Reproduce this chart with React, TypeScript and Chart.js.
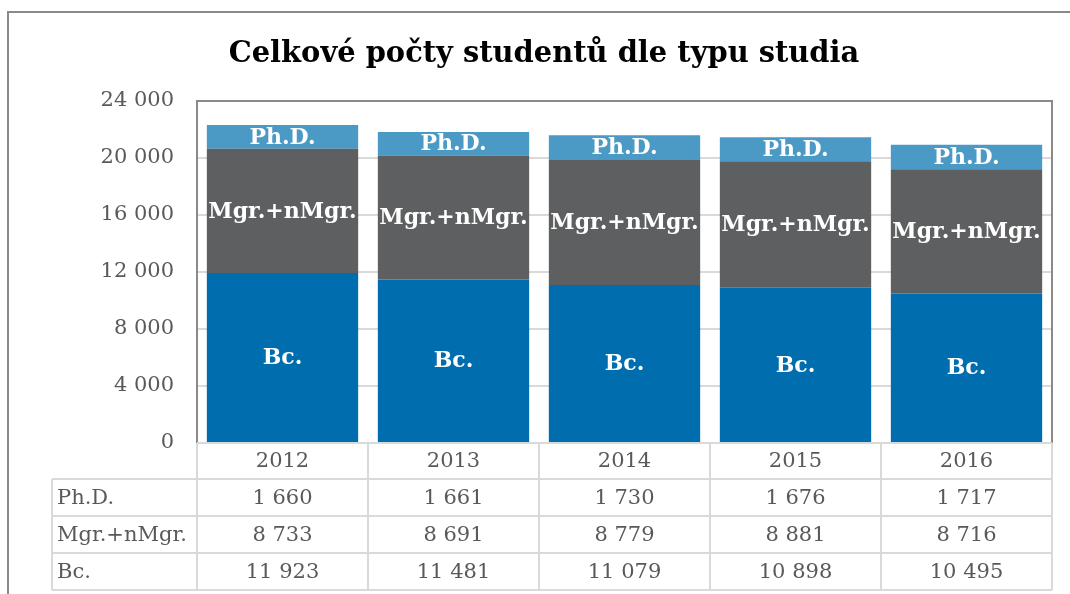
import React, { useEffect, useRef } from "react";
import { Chart, registerables } from "chart.js";

Chart.register(...registerables);

const chartTitle = "Celkové počty studentů dle typu studia";
const years = ["2012", "2013", "2014", "2015", "2016"];
const bcValues = [11923, 11481, 11079, 10898, 10495];
const mgrValues = [8733, 8691, 8779, 8881, 8716];
const phdValues = [1660, 1661, 1730, 1676, 1717];
const seriesNames = ["Bc.", "Mgr.+nMgr.", "Ph.D."];
const yMin = 0;
const yMax = 24000;
const yStep = 4000;

const SERIF = '"DejaVu Serif", "Liberation Serif", serif';
const TEXT_GREY = "#595959";
const LINE_GREY = "#D9D9D9";
const BORDER_GREY = "#8A8A8A";

const fmt = (n: number) => String(n).replace(/\B(?=(\d{3})+(?!\d))/g, "\u00a0");

const decorPlugin = {
  id: "decor",
  afterDatasetsDraw(chart: any) {
    const ctx = chart.ctx;
    // data labels
    ctx.save();
    ctx.fillStyle = "#FFFFFF";
    ctx.font = `bold 22px ${SERIF}`;
    ctx.textAlign = "center";
    ctx.textBaseline = "middle";
    chart.data.datasets.forEach((ds: any, di: number) => {
      const meta = chart.getDatasetMeta(di);
      meta.data.forEach((el: any) => {
        const p = el.getProps(["x", "y", "base"], true);
        ctx.fillText(ds.label, p.x, (p.y + p.base) / 2 + 1);
      });
    });
    ctx.restore();
  },
  afterDraw(chart: any) {
    const ctx = chart.ctx;
    const area = chart.chartArea;
    const xs = chart.scales.x;
    const n = years.length;
    const catW = (area.right - area.left) / n;

    ctx.save();
    // outer chart border
    ctx.strokeStyle = BORDER_GREY;
    ctx.lineWidth = 2;
    ctx.beginPath();
    ctx.moveTo(8, chart.height);
    ctx.lineTo(8, 12);
    ctx.lineTo(chart.width, 12);
    ctx.stroke();

    // title
    ctx.fillStyle = "#000000";
    let size = 30;
    ctx.font = `bold ${size}px ${SERIF}`;
    const w = ctx.measureText(chartTitle).width;
    size = Math.min(34, (size * 631) / w);
    ctx.font = `bold ${size}px ${SERIF}`;
    ctx.textAlign = "center";
    ctx.textBaseline = "alphabetic";
    ctx.fillText(chartTitle, 544, 62);

    // plot area border (top, left, right)
    ctx.strokeStyle = BORDER_GREY;
    ctx.lineWidth = 2;
    ctx.beginPath();
    ctx.moveTo(area.left, area.bottom);
    ctx.lineTo(area.left, area.top);
    ctx.lineTo(area.right, area.top);
    ctx.lineTo(area.right, area.bottom);
    ctx.stroke();

    // data table
    const rowH = [36, 37, 37, 37];
    const rowsTop: number[] = [];
    let yy = area.bottom;
    for (const h of rowH) {
      rowsTop.push(yy);
      yy += h;
    }
    const tableBottom = yy;
    const labelLeft = 52;

    ctx.strokeStyle = LINE_GREY;
    ctx.lineWidth = 2;
    ctx.beginPath();
    // horizontal lines
    ctx.moveTo(area.left, rowsTop[0]);
    ctx.lineTo(area.right, rowsTop[0]);
    for (let r = 1; r < rowH.length; r++) {
      ctx.moveTo(labelLeft, rowsTop[r]);
      ctx.lineTo(area.right, rowsTop[r]);
    }
    ctx.moveTo(labelLeft, tableBottom);
    ctx.lineTo(area.right, tableBottom);
    // vertical lines
    ctx.moveTo(labelLeft, rowsTop[1]);
    ctx.lineTo(labelLeft, tableBottom);
    for (let i = 0; i <= n; i++) {
      const x = i < n ? xs.getPixelForValue(i) - catW / 2 : xs.getPixelForValue(n - 1) + catW / 2;
      ctx.moveTo(x, rowsTop[0]);
      ctx.lineTo(x, tableBottom);
    }
    ctx.stroke();

    ctx.fillStyle = TEXT_GREY;
    ctx.font = `21px ${SERIF}`;
    ctx.textBaseline = "middle";
    // header
    ctx.textAlign = "center";
    years.forEach((yr, i) => {
      ctx.fillText(yr, xs.getPixelForValue(i), rowsTop[0] + rowH[0] / 2 + 1);
    });
    const rows = [
      { name: seriesNames[2], vals: phdValues },
      { name: seriesNames[1], vals: mgrValues },
      { name: seriesNames[0], vals: bcValues },
    ];
    rows.forEach((row, r) => {
      const cy = rowsTop[r + 1] + rowH[r + 1] / 2 + 1;
      ctx.textAlign = "left";
      ctx.fillText(row.name, labelLeft + 5, cy);
      ctx.textAlign = "center";
      row.vals.forEach((v, i) => {
        ctx.fillText(fmt(v), xs.getPixelForValue(i), cy);
      });
    });
    ctx.restore();
  },
};

export default function App() {
  const ref = useRef<HTMLCanvasElement | null>(null);

  useEffect(() => {
    if (!ref.current) return;
    const chart = new Chart(ref.current, {
      type: "bar",
      data: {
        labels: years,
        datasets: [
          { label: seriesNames[0], data: bcValues, backgroundColor: "#006EAE" },
          { label: seriesNames[1], data: mgrValues, backgroundColor: "#5E5F61" },
          { label: seriesNames[2], data: phdValues, backgroundColor: "#4B9AC6" },
        ],
      },
      options: {
        animation: false,
        responsive: false,
        devicePixelRatio: 1,
        maintainAspectRatio: false,
        datasets: { bar: { categoryPercentage: 1, barPercentage: 0.885 } },
        layout: { padding: { left: 0, top: 101, right: 18, bottom: 151 } },
        plugins: {
          legend: { display: false },
          title: { display: false },
          tooltip: { enabled: false },
        },
        scales: {
          x: { stacked: true, display: false },
          y: {
            stacked: true,
            min: yMin,
            max: yMax,
            ticks: {
              stepSize: yStep,
              padding: 23,
              color: TEXT_GREY,
              font: { family: SERIF, size: 21 },
              callback: (v: any) => fmt(Number(v)),
            },
            grid: { color: LINE_GREY, lineWidth: 2, drawTicks: false },
            border: { display: false },
            afterFit: (scale: any) => {
              scale.width = 197;
            },
          },
        },
      },
      plugins: [decorPlugin],
    });
    return () => chart.destroy();
  }, []);

  return (
    <div style={{ position: "fixed", left: 0, top: 0, width: 1070, height: 594, background: "#fff" }}>
      <canvas ref={ref} width={1070} height={594} style={{ display: "block" }} />
    </div>
  );
}
